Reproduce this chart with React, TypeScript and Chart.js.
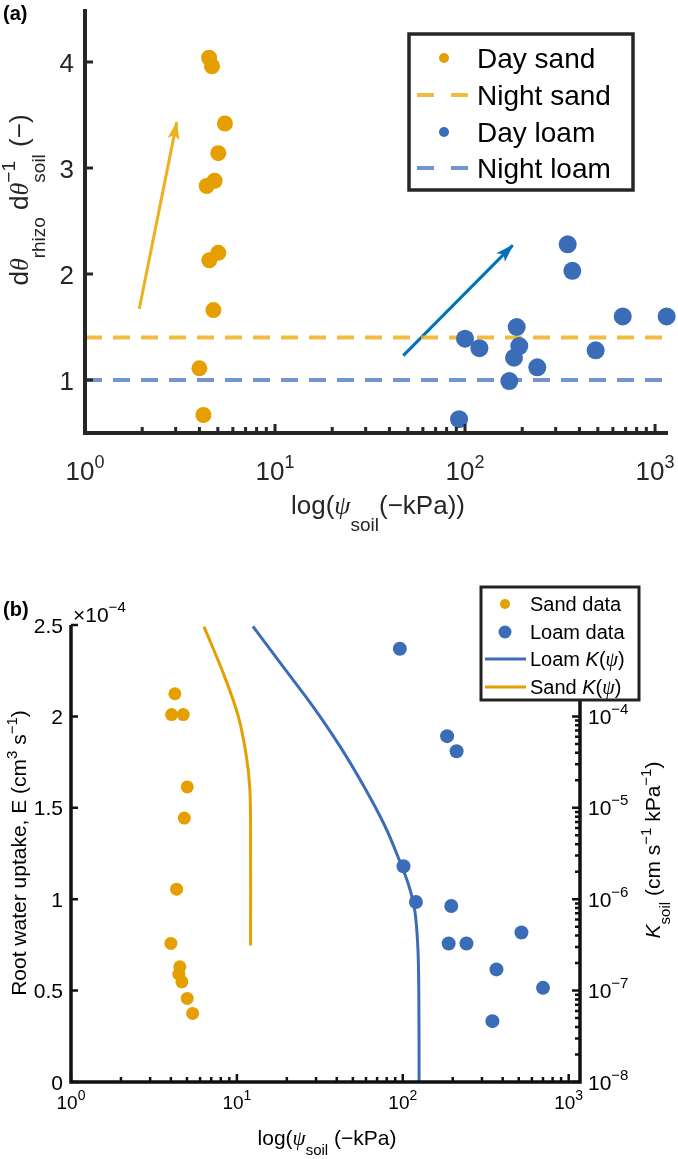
import React, { useEffect, useRef } from 'react';
import Chart from 'chart.js/auto';

// ---------- colours ----------
const SAND = '#E69F00';
const SAND_ARROW = '#EDB120';
const SAND_NIGHT = 'rgba(237,177,32,0.85)';
const LOAM = '#3B6CB7';
const LOAM_ARROW = '#0072BD';
const LOAM_NIGHT = 'rgba(77,122,191,0.8)';
const AXIS_A = '#262626';
const AXIS_B = '#111111';

// ---------- panel (a): dθ_rhizo/dθ_soil vs soil water potential ----------
const psiRange = [1, 1170];
const psiDecades = [0, 1, 2, 3];
const daySandPsi = [4.5, 4.66, 5.45, 5.03, 4.81, 4.37, 5.03, 4.51, 4.74, 4.0, 4.2];
const daySandRatio = [4.04, 3.96, 3.42, 3.14, 2.88, 2.83, 2.2, 2.13, 1.66, 1.11, 0.67];
const dayLoamPsi = [347, 367, 100, 119, 187, 193, 181, 240, 171, 487, 93, 676, 1151];
const dayLoamRatio = [2.28, 2.03, 1.39, 1.3, 1.5, 1.32, 1.21, 1.12, 0.99, 1.28, 0.63, 1.6, 1.6];
const nightSandRatio = 1.4;
const nightLoamRatio = 1.0;
const sandArrowPsi = [1.93, 3.04];
const sandArrowRatio = [1.67, 3.43];
const loamArrowPsi = [47.3, 178];
const loamArrowRatio = [1.23, 2.27];
const ratioRange = [0.5, 4.5];
const ratioTicks = [1, 2, 3, 4];

// ---------- panel (b): root water uptake and soil conductivity ----------
const sandUptakePsi = [4.23, 4.04, 4.75, 5.02, 4.82, 4.33, 4.0, 4.53, 4.47, 4.66, 5.02, 5.41];
const sandUptake = [2.124e-4, 2.01e-4, 2.01e-4, 1.614e-4, 1.444e-4, 1.055e-4, 0.758e-4, 0.63e-4, 0.59e-4, 0.548e-4, 0.457e-4, 0.375e-4];
const loamUptakePsi = [96, 185, 211, 101, 120, 196, 189, 242, 519, 367, 700, 347];
const loamUptake = [2.37e-4, 1.892e-4, 1.809e-4, 1.18e-4, 0.985e-4, 0.963e-4, 0.758e-4, 0.758e-4, 0.818e-4, 0.616e-4, 0.515e-4, 0.333e-4];
const loamKPsi = [12.49, 18.93, 28.7, 41.74, 59.03, 77.9, 94.6, 108.7, 118.1, 123.1, 124.9, 125.4];
const loamK = [9.64e-4, 3.52e-4, 1.29e-4, 4.73e-5, 1.65e-5, 6.36e-6, 2.77e-6, 1.41e-6, 7.52e-7, 3.12e-7, 1.0e-7, 8.2e-9];
const sandKPsi = [6.33, 8.27, 10.2, 11.4, 11.97, 12.09, 12.09];
const sandK = [9.6e-4, 2.98e-4, 1.0e-4, 3.68e-5, 1.6e-5, 5.37e-6, 3.12e-7];
const uptakeRange = [0, 2.5e-4];
const uptakeTicks = [0, 0.5e-4, 1e-4, 1.5e-4, 2e-4, 2.5e-4];
const kRange = [1e-8, 1e-3];
const kLabelExps = [-8, -7, -6, -5, -4];

const pts = (xs: number[], ys: number[]) => xs.map((x, i) => ({ x, y: ys[i] }));

// ---------- rich text (sub/superscripts) ----------
type Run = { t?: string; size?: number; dy?: number; italic?: boolean; serif?: boolean; bold?: boolean; stack?: Run[] };
const SANS = '"Liberation Sans", Arial, Helvetica, sans-serif';
const SERIF = '"Liberation Serif", "DejaVu Serif", serif';

function fontFor(r: Run) {
  return `${r.italic ? 'italic ' : ''}${r.bold ? 'bold ' : ''}${r.size}px ${r.serif ? SERIF : SANS}`;
}
function runWidth(ctx: CanvasRenderingContext2D, r: Run): number {
  if (r.stack) return Math.max(...r.stack.map((s) => runWidth(ctx, s)));
  ctx.font = fontFor(r);
  return ctx.measureText(r.t || '').width;
}
function drawRich(ctx: CanvasRenderingContext2D, runs: Run[], x: number, y: number, align: 'left' | 'center' | 'right', angle = 0, color = '#000') {
  ctx.save();
  ctx.translate(x, y);
  if (angle) ctx.rotate(angle);
  const w = runs.reduce((a, r) => a + runWidth(ctx, r), 0);
  let cx = align === 'left' ? 0 : align === 'center' ? -w / 2 : -w;
  ctx.fillStyle = color;
  ctx.textBaseline = 'alphabetic';
  ctx.textAlign = 'left';
  for (const r of runs) {
    const parts = r.stack ?? [r];
    for (const p of parts) {
      ctx.font = fontFor(p);
      ctx.fillText(p.t || '', cx, p.dy ?? 0);
    }
    cx += runWidth(ctx, r);
  }
  ctx.restore();
}

function arrowHead(ctx: CanvasRenderingContext2D, meta: any, color: string, len: number, half: number) {
  const p0 = meta.data[0], p1 = meta.data[1];
  const a = Math.atan2(p1.y - p0.y, p1.x - p0.x);
  const ux = Math.cos(a), uy = Math.sin(a);
  const bx = p1.x - ux * len, by = p1.y - uy * len;
  const nx = p1.x - ux * len * 0.75, ny = p1.y - uy * len * 0.75;
  ctx.fillStyle = color;
  ctx.beginPath();
  ctx.moveTo(p1.x + ux * 1.5, p1.y + uy * 1.5);
  ctx.lineTo(bx - uy * half, by + ux * half);
  ctx.lineTo(nx, ny);
  ctx.lineTo(bx + uy * half, by - ux * half);
  ctx.closePath();
  ctx.fill();
}

function logTicksX(ctx: CanvasRenderingContext2D, scale: any, base: number, major: number, minor: number) {
  ctx.beginPath();
  for (const d of psiDecades) {
    for (let m = 1; m <= 9; m++) {
      const v = m * Math.pow(10, d);
      if (v < scale.min || v > scale.max) continue;
      const px = scale.getPixelForValue(v);
      ctx.moveTo(px, base);
      ctx.lineTo(px, base - (m === 1 ? major : minor));
    }
  }
  ctx.stroke();
}

// ---------- panel (a) overlay: axes, labels, legend, arrow heads ----------
const panelAOverlay = {
  id: 'panelAOverlay',
  afterDatasetsDraw(chart: any) {
    const ctx: CanvasRenderingContext2D = chart.ctx;
    const { left, right, top, bottom } = chart.chartArea;
    const xs = chart.scales.x, ys = chart.scales.y;
    ctx.save();
    arrowHead(ctx, chart.getDatasetMeta(4), SAND_ARROW, 17, 6);
    arrowHead(ctx, chart.getDatasetMeta(5), LOAM_ARROW, 17, 6);

    ctx.strokeStyle = AXIS_A;
    ctx.lineWidth = 4;
    ctx.lineJoin = 'miter';
    ctx.beginPath();
    ctx.moveTo(left, top);
    ctx.lineTo(left, bottom);
    ctx.lineTo(right, bottom);
    ctx.stroke();

    ctx.lineWidth = 3;
    ctx.beginPath();
    for (const t of ratioTicks) {
      const py = ys.getPixelForValue(t);
      ctx.moveTo(left, py);
      ctx.lineTo(left + 8, py);
    }
    ctx.stroke();
    logTicksX(ctx, xs, bottom, 9, 6);

    // tick labels
    ctx.fillStyle = AXIS_A;
    ctx.font = `26px ${SANS}`;
    ctx.textAlign = 'right';
    ctx.textBaseline = 'alphabetic';
    for (const t of ratioTicks) ctx.fillText(String(t), 74, ys.getPixelForValue(t) + 9.5);
    for (const d of psiDecades) {
      drawRich(ctx, [{ t: '10', size: 26 }, { t: String(d), size: 18, dy: -12 }], xs.getPixelForValue(Math.pow(10, d)), 480, 'center', 0, AXIS_A);
    }

    // axis titles
    drawRich(ctx, [
      { t: 'log(', size: 26 },
      { t: 'ψ', size: 26, italic: true, serif: true },
      { t: 'soil', size: 19, dy: 17 },
      { t: '(−kPa))', size: 26 },
    ], 378, 514, 'center', 0, AXIS_A);
    drawRich(ctx, [
      { t: 'd', size: 26 },
      { t: 'θ', size: 26, italic: true, serif: true },
      { t: 'rhizo', size: 19, dy: 17 },
      { t: ' d', size: 26 },
      { t: 'θ', size: 26, italic: true, serif: true },
      { stack: [{ t: '−1', size: 19, dy: -13 }, { t: 'soil', size: 19, dy: 17 }] },
      { t: ' (−)', size: 26 },
    ], 28, 200, 'center', -Math.PI / 2, AXIS_A);

    // panel tag
    ctx.fillStyle = '#000';
    ctx.font = `bold 20px ${SANS}`;
    ctx.textAlign = 'left';
    ctx.fillText('(a)', 3, 20);

    // legend
    const bx = 409, by = 34, bw = 224, bh = 156;
    ctx.fillStyle = '#fff';
    ctx.fillRect(bx, by, bw, bh);
    ctx.strokeStyle = AXIS_A;
    ctx.lineWidth = 3.5;
    ctx.strokeRect(bx, by, bw, bh);
    const rows = [58, 95, 132, 168];
    const names = ['Day sand', 'Night sand', 'Day loam', 'Night loam'];
    rows.forEach((ry, i) => {
      const col = i < 2 ? (i === 0 ? SAND : SAND_NIGHT) : (i === 2 ? LOAM : LOAM_NIGHT);
      if (i % 2 === 0) {
        ctx.fillStyle = col;
        ctx.beginPath();
        ctx.arc(444, ry, 5, 0, Math.PI * 2);
        ctx.fill();
      } else {
        ctx.strokeStyle = col;
        ctx.lineWidth = 4;
        ctx.setLineDash([17, 17]);
        ctx.beginPath();
        ctx.moveTo(417, ry);
        ctx.lineTo(470, ry);
        ctx.stroke();
        ctx.setLineDash([]);
      }
      ctx.fillStyle = '#000';
      ctx.font = `28px ${SANS}`;
      ctx.textAlign = 'left';
      ctx.fillText(names[i], 477, ry + 10);
    });
    ctx.restore();
  },
};

// ---------- panel (b) overlay ----------
const panelBOverlay = {
  id: 'panelBOverlay',
  afterDatasetsDraw(chart: any) {
    const ctx: CanvasRenderingContext2D = chart.ctx;
    const { left, right, top, bottom } = chart.chartArea;
    const xs = chart.scales.x, ys = chart.scales.y, ks = chart.scales.y2;
    ctx.save();
    ctx.strokeStyle = AXIS_B;
    ctx.lineWidth = 3.5;
    ctx.lineJoin = 'miter';
    ctx.beginPath();
    ctx.moveTo(left, top);
    ctx.lineTo(left, bottom);
    ctx.lineTo(right, bottom);
    ctx.lineTo(right, top);
    ctx.stroke();

    ctx.lineWidth = 2.5;
    ctx.beginPath();
    for (const t of uptakeTicks) {
      const py = ys.getPixelForValue(t);
      ctx.moveTo(left, py);
      ctx.lineTo(left + 7, py);
    }
    ctx.stroke();
    logTicksX(ctx, xs, bottom, 8, 5);
    ctx.beginPath();
    for (let d = -8; d <= -3; d++) {
      for (let m = 1; m <= 9; m++) {
        const v = m * Math.pow(10, d);
        if (v < ks.min * 0.999 || v > ks.max * 1.001) continue;
        const py = ks.getPixelForValue(v);
        ctx.moveTo(right, py);
        ctx.lineTo(right - (m === 1 ? 8 : 5), py);
      }
    }
    ctx.stroke();

    // tick labels
    ctx.fillStyle = '#000';
    ctx.font = `21px ${SANS}`;
    ctx.textAlign = 'right';
    ctx.textBaseline = 'alphabetic';
    for (const t of uptakeTicks) ctx.fillText(String(+(t / 1e-4).toFixed(1)), 63, ys.getPixelForValue(t) + 7.5);
    drawRich(ctx, [{ t: '×10', size: 21 }, { t: '−4', size: 15, dy: -10 }], 73, 62, 'left');
    for (const d of psiDecades) {
      drawRich(ctx, [{ t: '10', size: 19 }, { t: String(d), size: 14, dy: -9 }], xs.getPixelForValue(Math.pow(10, d)), 549, 'center');
    }
    for (const e of kLabelExps) {
      drawRich(ctx, [{ t: '10', size: 21 }, { t: `−${-e}`, size: 15, dy: -10 }], 588, ks.getPixelForValue(Math.pow(10, e)) + 7.5, 'left');
    }

    // axis titles
    drawRich(ctx, [
      { t: 'log(', size: 21 },
      { t: 'ψ', size: 21, italic: true, serif: true },
      { t: 'soil', size: 15, dy: 10 },
      { t: ' (−kPa)', size: 21 },
    ], 327, 585, 'center');
    drawRich(ctx, [
      { t: 'Root water uptake, E (cm', size: 21 },
      { t: '3', size: 15, dy: -9 },
      { t: ' s', size: 21 },
      { t: '−1', size: 15, dy: -9 },
      { t: ')', size: 21 },
    ], 26, 293, 'center', -Math.PI / 2);
    drawRich(ctx, [
      { t: 'K', size: 21, italic: true },
      { t: 'soil', size: 15, dy: 10 },
      { t: ' (cm s', size: 21 },
      { t: '−1', size: 15, dy: -9 },
      { t: ' kPa', size: 21 },
      { t: '−1', size: 15, dy: -9 },
      { t: ')', size: 21 },
    ], 660, 290, 'center', -Math.PI / 2);

    ctx.fillStyle = '#000';
    ctx.font = `bold 20px ${SANS}`;
    ctx.textAlign = 'left';
    ctx.fillText('(b)', 3, 56);

    // legend
    const bx = 481, by = 27, bw = 158, bh = 113;
    ctx.fillStyle = '#fff';
    ctx.fillRect(bx, by, bw, bh);
    ctx.strokeStyle = '#222';
    ctx.lineWidth = 3;
    ctx.strokeRect(bx, by, bw, bh);
    const rows = [44, 72, 99, 127];
    rows.forEach((ry, i) => {
      if (i < 2) {
        ctx.fillStyle = i === 0 ? SAND : LOAM;
        ctx.beginPath();
        ctx.arc(505, ry, i === 0 ? 5 : 6.5, 0, Math.PI * 2);
        ctx.fill();
      } else {
        ctx.strokeStyle = i === 2 ? LOAM : SAND;
        ctx.lineWidth = 3;
        ctx.beginPath();
        ctx.moveTo(485, ry);
        ctx.lineTo(526, ry);
        ctx.stroke();
      }
    });
    const lx = 530;
    drawRich(ctx, [{ t: 'Sand data', size: 20 }], lx, rows[0] + 7, 'left');
    drawRich(ctx, [{ t: 'Loam data', size: 20 }], lx, rows[1] + 7, 'left');
    drawRich(ctx, [{ t: 'Loam ', size: 20 }, { t: 'K', size: 20, italic: true }, { t: '(', size: 20 }, { t: 'ψ', size: 20, italic: true, serif: true }, { t: ')', size: 20 }], lx, rows[2] + 7, 'left');
    drawRich(ctx, [{ t: 'Sand ', size: 20 }, { t: 'K', size: 20, italic: true }, { t: '(', size: 20 }, { t: 'ψ', size: 20, italic: true, serif: true }, { t: ')', size: 20 }], lx, rows[3] + 7, 'left');
    ctx.restore();
  },
};

const baseOptions = {
  responsive: false,
  animation: false as const,
  devicePixelRatio: 1,
  events: [] as any[],
  plugins: { legend: { display: false }, tooltip: { enabled: false } },
};

function PanelA() {
  const ref = useRef<HTMLCanvasElement>(null);
  useEffect(() => {
    const chart = new Chart(ref.current!, {
      type: 'scatter',
      data: {
        datasets: [
          { label: 'Day sand', data: pts(daySandPsi, daySandRatio), backgroundColor: SAND, borderWidth: 0, pointRadius: 8, order: 0, clip: false } as any,
          { label: 'Night sand', data: pts(psiRange, [nightSandRatio, nightSandRatio]), showLine: true, borderColor: SAND_NIGHT, borderWidth: 4, borderDash: [17, 11], pointRadius: 0, order: 1 },
          { label: 'Day loam', data: pts(dayLoamPsi, dayLoamRatio), backgroundColor: LOAM, borderWidth: 0, pointRadius: 9, order: 0, clip: false },
          { label: 'Night loam', data: pts(psiRange, [nightLoamRatio, nightLoamRatio]), showLine: true, borderColor: LOAM_NIGHT, borderWidth: 4, borderDash: [17, 11], pointRadius: 0, order: 1 },
          { label: 'sand trend', data: pts(sandArrowPsi, sandArrowRatio), showLine: true, borderColor: SAND_ARROW, borderWidth: 3, pointRadius: 0, order: 1 },
          { label: 'loam trend', data: pts(loamArrowPsi, loamArrowRatio), showLine: true, borderColor: LOAM_ARROW, borderWidth: 3, pointRadius: 0, order: 1 },
        ],
      },
      options: {
        ...baseOptions,
        layout: { padding: { left: 85, right: 10, top: 3, bottom: 127 } },
        scales: {
          x: { type: 'logarithmic', min: psiRange[0], max: psiRange[1], display: false },
          y: { type: 'linear', min: ratioRange[0], max: ratioRange[1], display: false },
        },
      } as any,
      plugins: [panelAOverlay],
    });
    return () => chart.destroy();
  }, []);
  return <canvas ref={ref} width={678} height={560} style={{ display: 'block', width: 678, height: 560 }} />;
}

function PanelB() {
  const ref = useRef<HTMLCanvasElement>(null);
  useEffect(() => {
    const chart = new Chart(ref.current!, {
      type: 'scatter',
      data: {
        datasets: [
          { label: 'Sand data', data: pts(sandUptakePsi, sandUptake), backgroundColor: SAND, borderWidth: 0, pointRadius: 6.5, yAxisID: 'y', order: 0, clip: false } as any,
          { label: 'Loam data', data: pts(loamUptakePsi, loamUptake), backgroundColor: LOAM, borderWidth: 0, pointRadius: 7, yAxisID: 'y', order: 0, clip: false },
          { label: 'Loam K(ψ)', data: pts(loamKPsi, loamK), showLine: true, borderColor: LOAM, borderWidth: 3, pointRadius: 0, tension: 0.35, yAxisID: 'y2', order: 1 },
          { label: 'Sand K(ψ)', data: pts(sandKPsi, sandK), showLine: true, borderColor: SAND, borderWidth: 3, pointRadius: 0, tension: 0.35, yAxisID: 'y2', order: 1 },
        ],
      },
      options: {
        ...baseOptions,
        layout: { padding: { left: 71, right: 98, top: 65, bottom: 77 } },
        scales: {
          x: { type: 'logarithmic', min: psiRange[0], max: psiRange[1], display: false },
          y: { type: 'linear', min: uptakeRange[0], max: uptakeRange[1], display: false },
          y2: { type: 'logarithmic', position: 'right', min: kRange[0], max: kRange[1], display: false },
        },
      } as any,
      plugins: [panelBOverlay],
    });
    return () => chart.destroy();
  }, []);
  return <canvas ref={ref} width={678} height={599} style={{ display: 'block', width: 678, height: 599 }} />;
}

export default function App() {
  return (
    <div style={{ position: 'absolute', left: 0, top: 0, width: 678, height: 1159, background: '#fff' }}>
      <PanelA />
      <PanelB />
    </div>
  );
}
